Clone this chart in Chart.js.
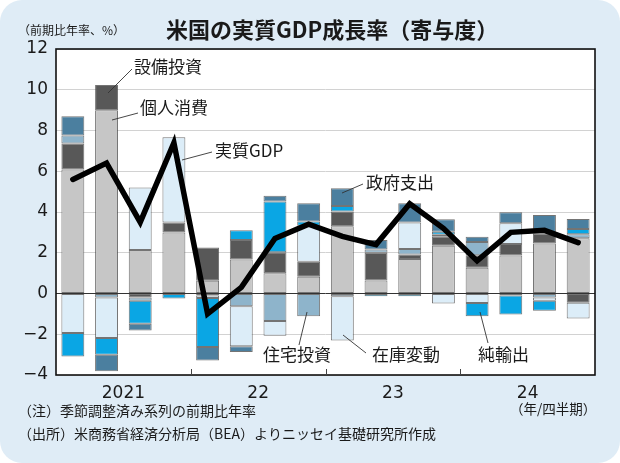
<!DOCTYPE html>
<html><head><meta charset="utf-8">
<script src="https://cdn.jsdelivr.net/npm/chart.js@4/dist/chart.umd.min.js"></script>
<style>html,body{margin:0;padding:0;background:#fff;}canvas{display:block}</style>
</head><body>
<canvas id="c" width="620" height="463"></canvas>
<script>
// ---- data (contributions to real GDP growth, %pt, SAAR) ----
const quarters = ['2021Q1','2021Q2','2021Q3','2021Q4','2022Q1','2022Q2','2022Q3','2022Q4',
                  '2023Q1','2023Q2','2023Q3','2023Q4','2024Q1','2024Q2','2024Q3','2024Q4'];
const yearLabels = ['2021','22','23','24'];
const yTicks = [-4,-2,0,2,4,6,8,10,12];

const consumption = [6.08, 9.00, 2.13, 2.99, 0.62, 1.67, 0.99, 0.82, 3.30, 0.64, 1.69, 2.34, 1.26, 1.86, 2.46, 2.71];
const equipment   = [1.28, 1.23,-0.20, 0.49, 1.64, 0.95, 1.03, 0.74, 0.72, 1.36, 0.23, 0.44, 0.62, 0.57, 0.49,-0.46];
const housing     = [0.39,-0.20,-0.16, 0.00,-0.10,-0.62,-1.35,-1.12,-0.13, 0.16, 0.26, 0.10, 0.65,-0.10,-0.20, 0.20];
const inventory   = [-1.94,-1.98, 3.07, 4.19,-0.12,-1.97,-0.72, 1.77,-2.18, 0.00, 1.31,-0.49,-0.47, 1.02,-0.16,-0.77];
const netExports  = [-1.15,-0.82,-1.12,-0.25,-2.41, 0.49, 2.50, 0.20, 0.28,-0.13,-0.13, 0.15,-0.65,-0.93,-0.49, 0.26];
const government  = [0.95,-0.82,-0.33, 0.00,-0.66,-0.28, 0.28, 0.90, 0.87, 0.46, 0.94, 0.62, 0.25, 0.54, 0.90, 0.49];
const realGDP     = [5.6, 6.4, 3.5, 7.4,-1.0, 0.3, 2.7, 3.4, 2.8, 2.4, 4.4, 3.2, 1.6, 3.0, 3.1, 2.5];

const seriesNames = ['個人消費','設備投資','住宅投資','在庫変動','純輸出','政府支出'];
const seriesColors = ['#c6c6c6','#585858','#8eb4cb','#dcedf8','#0aa6e4','#4b7f9f'];
const seriesData = [consumption, equipment, housing, inventory, netExports, government];

const JP = '"Noto Sans CJK JP","Noto Sans",sans-serif';
const NUM = '"DejaVu Sans","Liberation Sans",sans-serif';

const bgPlugin = {
  id:'bg',
  beforeDraw(chart){
    const ctx = chart.ctx, a = chart.chartArea;
    ctx.save();
    ctx.fillStyle = '#ffffff';
    ctx.fillRect(0,0,chart.width,chart.height);
    ctx.fillStyle = '#dfecf6';
    ctx.beginPath();
    ctx.roundRect(0,0,chart.width,chart.height,22);
    ctx.fill();
    ctx.fillStyle = '#ffffff';
    ctx.fillRect(a.left,a.top,a.right-a.left,a.bottom-a.top);
    ctx.restore();
  },
  afterDraw(chart){
    const ctx = chart.ctx, a = chart.chartArea, xs = chart.scales.x;
    ctx.save();
    // plot frame
    ctx.strokeStyle = '#111';
    ctx.lineWidth = 1.6;
    ctx.strokeRect(a.left,a.top,a.right-a.left,a.bottom-a.top);
    // year boundary ticks
    ctx.lineWidth = 1;
    ctx.strokeStyle = '#444';
    [3,7,11].forEach(i=>{
      const x = Math.round((xs.getPixelForValue(i)+xs.getPixelForValue(i+1))/2)+0.5;
      ctx.beginPath(); ctx.moveTo(x,a.bottom); ctx.lineTo(x,a.bottom-6); ctx.stroke();
    });
    // titles
    ctx.fillStyle = '#1a1a1a';
    ctx.textBaseline = 'middle';
    ctx.textAlign = 'left';
    ctx.font = 'bold 22px '+JP;
    ctx.fillText('米国の実質GDP成長率（寄与度）',166,30);
    ctx.font = '12px '+JP;
    ctx.fillText('（前期比年率、%）',18,30);
    ctx.font = '14px '+JP;
    ctx.fillText('（注）季節調整済み系列の前期比年率',18,411);
    ctx.fillText('（出所）米商務省経済分析局（BEA）よりニッセイ基礎研究所作成',18,434);
    ctx.font = '13.5px '+JP;
    ctx.fillText('（年/四半期）',510,409);
    // series annotations with leader lines
    const notes = [
      ['設備投資',134,67, 108,93,132,69],
      ['個人消費',140,108,112,120,138,113],
      ['実質GDP',215,151,182,160,212,152],
      ['政府支出',366,183,342,193,363,184],
      ['住宅投資',263,355,307,312,299,345],
      ['在庫変動',372,355,343,335,366,353],
      ['純輸出',478,355,480,312,488,343]
    ];
    ctx.font = '17px '+JP;
    ctx.strokeStyle = '#333';
    ctx.lineWidth = 0.9;
    notes.forEach(n=>{
      ctx.fillText(n[0],n[1],n[2]);
      ctx.beginPath(); ctx.moveTo(n[3],n[4]); ctx.lineTo(n[5],n[6]); ctx.stroke();
    });
    ctx.restore();
  }
};

const datasets = seriesNames.map((name,i)=>({
  type:'bar', label:name, data:seriesData[i],
  backgroundColor:seriesColors[i], borderColor:'rgba(70,70,70,0.75)', borderWidth:1,
  borderSkipped:false, stack:'s', order:1,
  barPercentage:0.68, categoryPercentage:1.0
}));
datasets.push({
  type:'line', label:'実質GDP', data:realGDP, borderColor:'#000', borderWidth:5.5,
  pointRadius:0, tension:0, fill:false, stack:'gdp', order:0,
  borderJoinStyle:'miter', borderCapStyle:'round'
});

new Chart(document.getElementById('c'),{
  data:{labels:quarters, datasets},
  options:{
    responsive:false, animation:false, devicePixelRatio:1,
    layout:{padding:{left:0,top:49,right:25,bottom:0}},
    plugins:{legend:{display:false},tooltip:{enabled:false},title:{display:false}},
    scales:{
      x:{
        stacked:true, offset:true,
        grid:{display:false, drawTicks:false},
        border:{display:false},
        ticks:{
          autoSkip:false, maxRotation:0, padding:8, color:'#1a1a1a',
          font:{family:NUM,size:17},
          labelOffset:16.85,
          callback:(v,i)=> (i%4===1 ? yearLabels[(i-1)/4] : '')
        },
        afterFit:(s)=>{ s.height = 88; }
      },
      y:{
        stacked:true, min:-4, max:12,
        afterBuildTicks:(s)=>{ s.ticks = yTicks.map(v=>({value:v})); },
        grid:{
          drawTicks:false,
          color:(c)=> c.tick && c.tick.value===0 ? '#333' : '#d2d2d2',
          lineWidth:1
        },
        border:{display:false},
        ticks:{
          padding:8, color:'#1a1a1a', font:{family:NUM,size:17},
          callback:(v)=> String(v).replace('-','−')
        },
        afterFit:(s)=>{ s.width = 56; }
      }
    }
  },
  plugins:[bgPlugin]
});
</script>
</body></html>
